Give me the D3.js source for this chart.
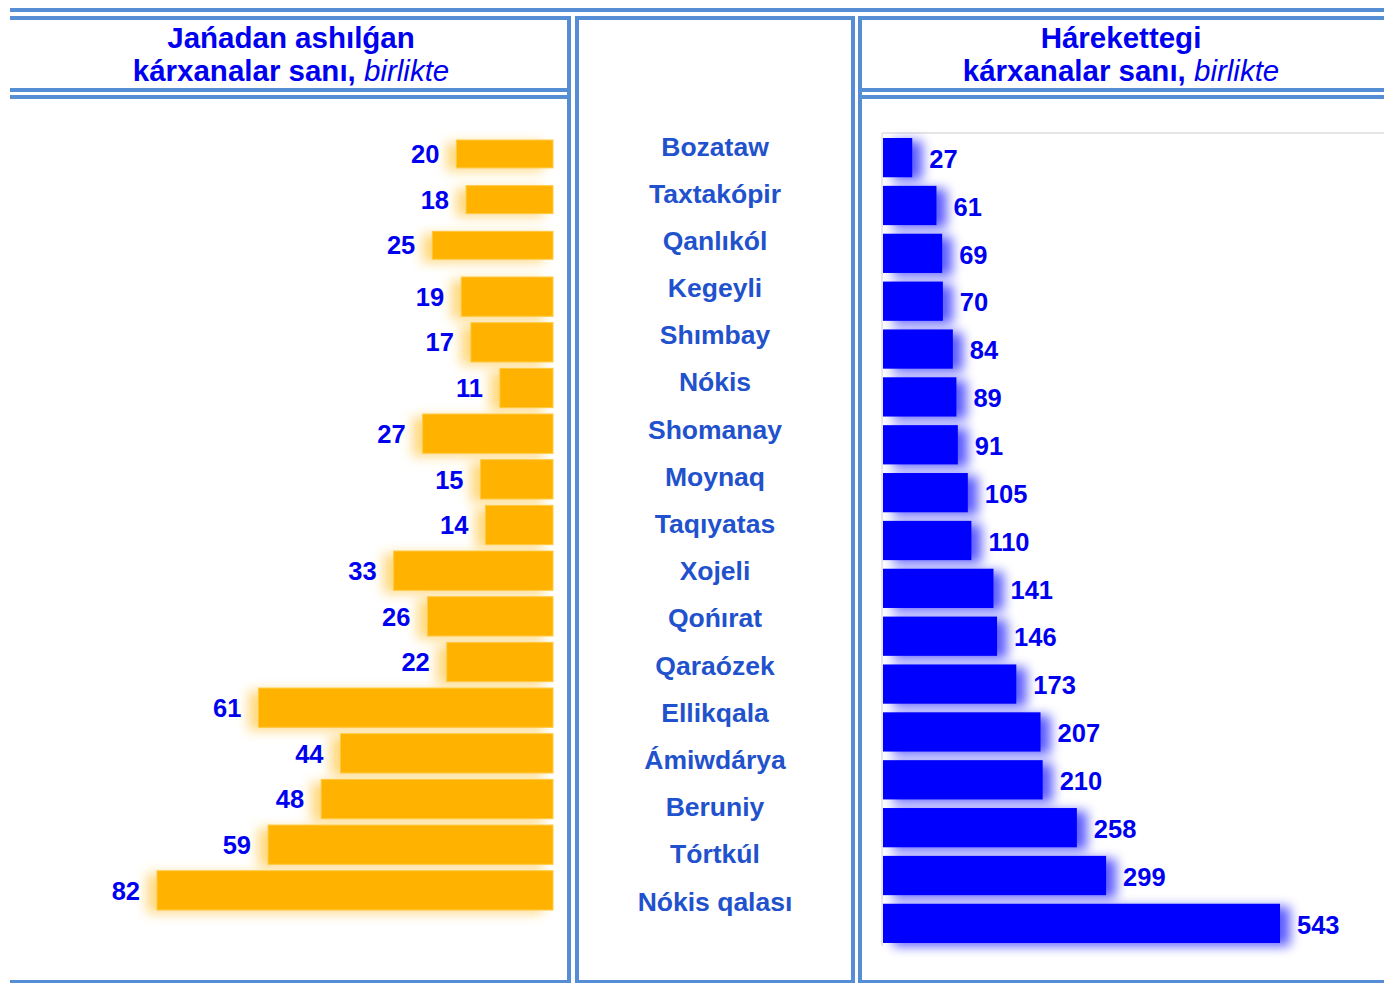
<!DOCTYPE html>
<html>
<head>
<meta charset="utf-8">
<script src="https://cdn.jsdelivr.net/npm/d3@7"></script>
<style>
  body { margin: 0; background: #fff; }
  svg { display: block; font-family: "Liberation Sans", Arial, sans-serif; }
</style>
</head>
<body>
<div id="container"></div>
<script>
/* DATA */
const districts = ["Bozataw", "Taxtakópir", "Qanlıkól", "Kegeyli", "Shımbay", "Nókis", "Shomanay", "Moynaq",
  "Taqıyatas", "Xojeli", "Qońırat", "Qaraózek", "Ellikqala", "Ámiwdárya", "Beruniy", "Tórtkúl", "Nókis qalası"];
const newCounts = [20, 18, 25, 19, 17, 11, 27, 15, 14, 33, 26, 22, 61, 44, 48, 59, 82];
const activeCounts = [27, 61, 69, 70, 84, 89, 91, 105, 110, 141, 146, 173, 207, 210, 258, 299, 543];
const leftTitle = ["Jańadan ashılǵan", "kárxanalar sanı, "];
const rightTitle = ["Hárekettegi", "kárxanalar sanı, "];
const unit = "birlikte";

/* CONSTANTS */
const width = 1384, height = 983;
const lineColor = "#558ED5", textBlue = "#0000F0", labelBlue = "#1F52CC";

const svg = d3.select("#container").append("svg")
  .attr("width", width)
  .attr("height", height);

// glow filters (orange to the left, blue to the right)
const defs = svg.append("defs");
function glow(id, dx, sd, slope) {
  const f = defs.append("filter").attr("id", id)
    .attr("filterUnits", "userSpaceOnUse")
    .attr("x", 0).attr("y", 0).attr("width", width).attr("height", height);
  f.append("feGaussianBlur").attr("in", "SourceGraphic").attr("stdDeviation", sd).attr("result", "b");
  f.append("feOffset").attr("in", "b").attr("dx", dx).attr("dy", 3).attr("result", "o");
  f.append("feComponentTransfer").attr("in", "o").attr("result", "f")
    .append("feFuncA").attr("type", "linear").attr("slope", slope);
  const m = f.append("feMerge");
  m.append("feMergeNode").attr("in", "f");
  m.append("feMergeNode").attr("in", "SourceGraphic");
}
glow("glowL", -10, 6, 0.5);
glow("glowR", 10, 6, 0.65);

/* TABLE BORDERS */
const borders = [
  [10, 10, 1384, 10],
  // left header + body
  [10, 18, 571, 18], [10, 90, 571, 90], [10, 97, 571, 97], [10, 982, 571, 982], [569, 16, 569, 983],
  // middle column
  [575, 18, 855, 18], [575, 982, 855, 982], [577, 16, 577, 983], [853, 16, 853, 983],
  // right header + body
  [858, 18, 1384, 18], [858, 90, 1384, 90], [858, 97, 1384, 97], [858, 982, 1384, 982], [860, 16, 860, 983]
];
svg.append("g").selectAll("line")
  .data(borders)
  .join("line")
  .attr("x1", d => d[0]).attr("y1", d => d[1])
  .attr("x2", d => d[2]).attr("y2", d => d[3])
  .attr("stroke", lineColor)
  .attr("stroke-width", 4);

/* HEADERS */
function header(cx, lines) {
  const t = svg.append("text")
    .attr("x", cx)
    .attr("text-anchor", "middle")
    .attr("fill", textBlue)
    .attr("font-size", 29.5)
    .attr("font-weight", "bold");
  t.append("tspan").attr("x", cx).attr("y", 48).text(lines[0]);
  t.append("tspan").attr("x", cx).attr("y", 81).text(lines[1]);
  t.append("tspan").attr("font-weight", "normal").attr("font-style", "italic").text(unit);
}
header(291, leftTitle);
header(1121, rightTitle);

/* SCALES */
const yLeft = d3.scaleBand()
  .domain(districts)
  .range([140, 910])
  .paddingInner(0.14)
  .paddingOuter(0);

const xLeft = d3.scaleLinear()
  .domain([0, 82])
  .range([553, 157]);

const yRight = d3.scaleBand()
  .domain(districts)
  .range([138, 943])
  .paddingInner(0.18)
  .paddingOuter(0);

const xRight = d3.scaleLinear()
  .domain([-14, 543])
  .range([883, 1280]);

const yMid = d3.scalePoint()
  .domain(districts)
  .range([146, 901]);

/* LEFT BARS */
// first three bars are drawn thinner in the original
const leftH = i => i < 3 ? yLeft.bandwidth() * 0.71 : yLeft.bandwidth();

svg.append("g").selectAll("rect")
  .data(newCounts)
  .join("rect")
  .attr("x", d => xLeft(d))
  .attr("y", (d, i) => yLeft(districts[i]))
  .attr("width", d => xLeft(0) - xLeft(d))
  .attr("height", (d, i) => leftH(i))
  .attr("fill", "#FFB300")
  .attr("stroke", "#FFC940")
  .attr("stroke-width", 1)
  .attr("filter", "url(#glowL)");

svg.append("g").selectAll("text")
  .data(newCounts)
  .join("text")
  .attr("x", d => xLeft(d) - 17)
  .attr("y", (d, i) => yLeft(districts[i]) + leftH(i) / 2)
  .attr("dy", "0.36em")
  .attr("text-anchor", "end")
  .attr("fill", textBlue)
  .attr("font-size", 25.5)
  .attr("font-weight", "bold")
  .text(d => d);

/* MIDDLE LABELS */
svg.append("g").selectAll("text")
  .data(districts)
  .join("text")
  .attr("x", 715)
  .attr("y", d => yMid(d))
  .attr("dy", "0.36em")
  .attr("text-anchor", "middle")
  .attr("fill", labelBlue)
  .attr("font-size", 26.5)
  .attr("font-weight", "bold")
  .text(d => d);

/* RIGHT PLOT AREA */
svg.append("line")
  .attr("x1", 882).attr("x2", 1384)
  .attr("y1", 133).attr("y2", 133)
  .attr("stroke", "#e6e6e6").attr("stroke-width", 2);
svg.append("line")
  .attr("x1", 882).attr("x2", 882)
  .attr("y1", 133).attr("y2", 946)
  .attr("stroke", "#e0e0e0").attr("stroke-width", 1.5);

/* RIGHT BARS */
svg.append("g").selectAll("rect")
  .data(activeCounts)
  .join("rect")
  .attr("x", xRight(-14))
  .attr("y", (d, i) => yRight(districts[i]))
  .attr("width", d => xRight(d) - xRight(-14))
  .attr("height", yRight.bandwidth())
  .attr("fill", "#0000FF")
  .attr("filter", "url(#glowR)");

svg.append("g").selectAll("text")
  .data(activeCounts)
  .join("text")
  .attr("x", d => xRight(d) + 17)
  .attr("y", (d, i) => yRight(districts[i]) + yRight.bandwidth() / 2 + 1)
  .attr("dy", "0.36em")
  .attr("fill", textBlue)
  .attr("font-size", 25.5)
  .attr("font-weight", "bold")
  .text(d => d);
</script>
</body>
</html>
